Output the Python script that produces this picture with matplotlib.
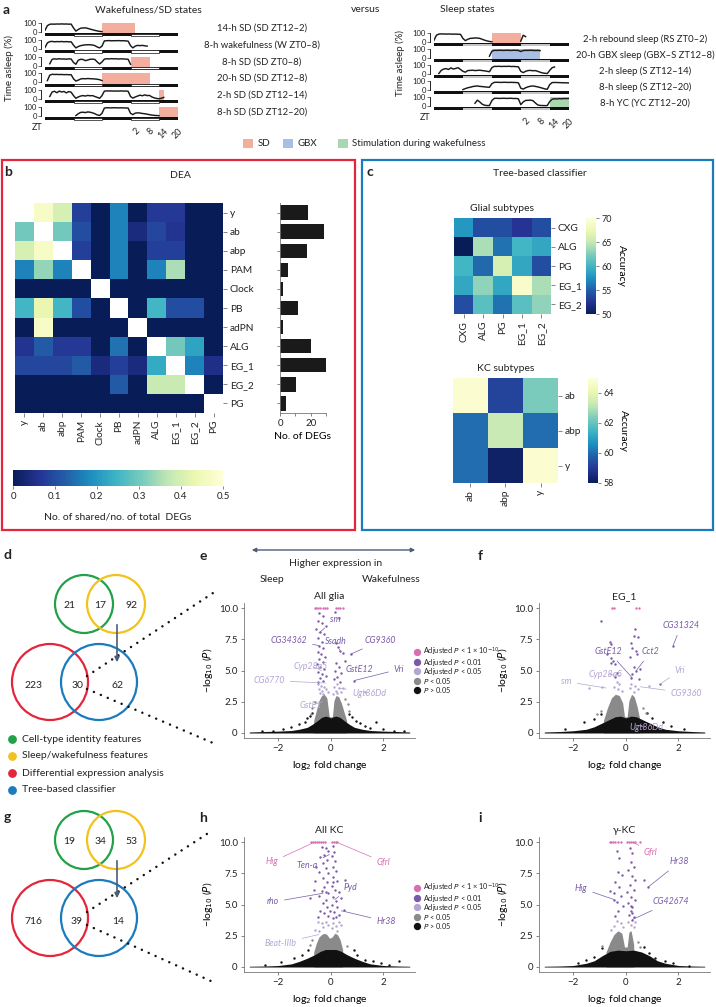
import numpy as np
import matplotlib
matplotlib.use("Agg")
from matplotlib import pyplot as plt
from matplotlib.patches import Rectangle, Circle

plt.rcParams['font.family'] = ['Lato', 'DejaVu Sans']
plt.rcParams['font.size'] = 7
plt.rcParams['mathtext.fontset'] = 'dejavusans'
plt.rcParams['axes.linewidth'] = 0.7
plt.rcParams['text.color'] = '#222222'
plt.rcParams['xtick.color'] = '#555555'
plt.rcParams['ytick.color'] = '#555555'
plt.rcParams['xtick.labelcolor'] = '#222222'
plt.rcParams['ytick.labelcolor'] = '#222222'

nan = np.nan

# ---------------- panel a: % time asleep, one value per hour from first ZT12 ----------------
hours = np.arange(57)
ld_starts = [0, 12, 24, 36, 48]
ld_dark = [True, False, True, False, True]
zt_hours = [38, 44, 50, 56]
zt_labels = ['2', '8', '14', '20']

wake_names = ['14-h SD (SD ZT12\u20132)', '8-h wakefulness (W ZT0\u20138)', '8-h SD (SD ZT0\u20138)',
              '20-h SD (SD ZT12\u20138)', '2-h SD (SD ZT12\u201314)', '8-h SD (SD ZT12\u201320)']
wake_traces = [
    [20, 70, 86, 88, 87, 89, 88, 90, 88, 89, 87, 88, 45, 10, 28, 42, 45, 46, 40, 32, 25, 18, 12, 7, 4]
    + [nan] * 32,
    [15, 65, 80, 82, 78, 80, 79, 81, 78, 80, 77, 78, 40, 10, 25, 35, 40, 44, 45, 45, 42, 35, 20, 10,
     30, 88, 90, 91, 89, 90, 90, 91, 89, 90, 88, 85, 35, 10, 30, 38, 35, 38, 33, 30] + [nan] * 13,
    [nan, nan, 20, 70, 75, 72, 76, 73, 74, 71, 75, 73, 35, 15, 60, 70, 68, 55, 62, 70, 72, 68, 40, 18,
     40, 72, 76, 74, 77, 75, 76, 73, 75, 74, 72, 70, 15] + [nan] * 20,
    [nan, 20, 80, 90, 88, 89, 87, 88, 86, 87, 85, 86, 40, 15, 25, 38, 42, 40, 43, 41, 40, 38, 35, 30, 20]
    + [nan] * 32,
    [nan, nan, 30, 80, 88, 72, 90, 80, 86, 70, 85, 78, 40, 10, 25, 35, 40, 35, 42, 38, 40, 30, 20, 10,
     40, 90, 92, 91, 92, 90, 91, 90, 92, 90, 91, 88, 30, 12, 25, 35, 45, 38, 48, 40, 42, 25, 15, 8,
     5, 10, 20] + [nan] * 6,
    [nan] * 13 + [5, 25, 40, 42, 38, 45, 42, 35, 25, 12, 6, 30, 88, 92, 91, 90, 92, 91, 90, 91, 90, 89,
                  88, 30, 15, 32, 35, 33, 28, 25, 20, 15, 10, 7, 5, 4] + [nan] * 8,
]
wake_shades = [(24, 38, 'SD'), None, (36, 44, 'SD'), (24, 44, 'SD'), (48, 50, 'SD'), (48, 56, 'SD')]

sleep_names = ['2-h rebound sleep (RS ZT0\u20132)', '20-h GBX sleep (GBX\u2013S ZT12\u20138)',
               '2-h sleep (S ZT12\u201314)', '8-h sleep (S ZT12\u201320)', '8-h YC (YC ZT12\u201320)']
sleep_traces = [
    [20, 75, 88, 90, 89, 88, 89, 88, 87, 88, 86, 85, 40, 15, 30, 40, 42, 45, 44, 40, 30, 20, 12, 6, 3]
    + [nan] * 11 + [10, 75, 60] + [nan] * 18,
    [nan] * 23 + [20, 75, 85, 84, 86, 85, 84, 86, 85, 84, 86, 85, 84, 72, 83, 85, 84, 86, 84, 83, 84, 82]
    + [nan] * 12,
    [nan, nan, 5, 40, 55, 60, 50, 68, 55, 62, 70, 50, 30, 20, 38, 40, 42, 38, 40, 42, 38, 35, 30, 25,
     70, 85, 84, 86, 83, 85, 84, 86, 83, 84, 82, 80, 30, 15, 30, 38, 40, 36, 38, 30, 20, 12, 8, 5,
     40, 70, 78] + [nan] * 6,
    [nan] * 12 + [5, 15, 25, 30, 38, 42, 45, 40, 38, 35, 32, 30, 70, 85, 86, 85, 84, 86, 85, 84, 85, 84,
                  83, 80, 20, 10, 25, 35, 42, 45, 40, 35, 28, 20, 12, 8, 60, 82, 84, 83, 82, 81, 80, 80, 78],
    [nan] * 17 + [30, 65, 45, 20, 8, 5, 5, 60, 85, 86, 84, 85, 86, 84, 85, 86, 83, 84, 80, 15, 45, 62,
                  63, 65, 60, 35, 12, 6, 5, 4, 5, 50, 75, 80, 78, 82, 80, 83, 82, 84],
]
sleep_shades = [(24, 36, 'SD'), (24, 44, 'GBX'), None, None, (48, 56, 'Stim')]
shade_colors = {'SD': '#f4ae9e', 'GBX': '#a9bee3', 'Stim': '#abd7b0'}
legend_a = ['SD', 'GBX', 'Stimulation during wakefulness']
legend_a_keys = ['SD', 'GBX', 'Stim']

# ---------------- panel b: DEA overlap ----------------
dea_labels = ['y', 'ab', 'abp', 'PAM', 'Clock', 'PB', 'adPN', 'ALG', 'EG_1', 'EG_2', 'PG']
dea_shared = [
    [nan, 0.47, 0.40, 0.08, 0.00, 0.17, 0.00, 0.07, 0.07, 0.00, 0.00],
    [0.30, nan, 0.30, 0.10, 0.00, 0.17, 0.04, 0.09, 0.06, 0.00, 0.00],
    [0.40, 0.47, nan, 0.08, 0.00, 0.17, 0.00, 0.08, 0.08, 0.00, 0.00],
    [0.17, 0.33, 0.17, nan, 0.00, 0.17, 0.00, 0.17, 0.35, 0.00, 0.00],
    [0.00, 0.00, 0.00, 0.00, nan, 0.00, 0.00, 0.00, 0.00, 0.00, 0.00],
    [0.25, 0.43, 0.25, 0.10, 0.00, nan, 0.00, 0.25, 0.10, 0.10, 0.00],
    [0.00, 0.47, 0.00, 0.00, 0.00, 0.00, nan, 0.00, 0.00, 0.00, 0.00],
    [0.06, 0.12, 0.07, 0.07, 0.00, 0.15, 0.00, nan, 0.30, 0.22, 0.00],
    [0.09, 0.09, 0.09, 0.12, 0.04, 0.08, 0.04, 0.23, nan, 0.17, 0.05],
    [0.00, 0.00, 0.00, 0.00, 0.00, 0.12, 0.00, 0.38, 0.38, nan, 0.00],
    [0.00, 0.00, 0.00, 0.00, 0.00, 0.00, 0.00, 0.00, 0.00, 0.00, nan],
]
dea_counts = [18, 29, 17.5, 5.5, 2, 11.5, 2, 20.5, 30, 10.5, 4]

# ---------------- panel c: classifier accuracy ----------------
glia_labels = ['CXG', 'ALG', 'PG', 'EG_1', 'EG_2']
glia_acc = [
    [58, 54, 54, 52.5, 54],
    [50, 64, 56, 60, 59],
    [60, 55.5, 66, 59, 54],
    [59, 63, 59, 69, 64],
    [54, 61, 56, 61, 63],
]
kc_labels = ['ab', 'abp', 'y']
kc_acc = [
    [64.8, 59.2, 62.3],
    [60.0, 63.3, 60.0],
    [60.0, 58.2, 64.8],
]

# ---------------- panels d, g: venn counts ----------------
venn_sets = ['Cell-type identity features', 'Sleep/wakefulness features',
             'Differential expression analysis', 'Tree-based classifier']
venn_colors = ['#23a149', '#f2c21d', '#e3263c', '#1b7bbd']
venn_d = [21, 17, 92, 223, 30, 62]
venn_g = [19, 34, 53, 716, 39, 14]

# ---------------- volcano plots (e, f, h, i) ----------------
vol_cats = ['Adjusted $P$ < 1 \u00d7 10$^{-10}$', 'Adjusted $P$ < 0.01', 'Adjusted $P$ < 0.05',
            '$P$ < 0.05', '$P$ > 0.05']
PINK, PURP, LPURP, GRAY, BLACK = '#d86fb1', '#7a5aa8', '#b5a4d3', '#8a8a8a', '#111111'

# All glia
glia_top = [(-0.62, 10), (-0.55, 10), (-0.48, 10), (-0.42, 10), (-0.3, 10), (-0.22, 10), (-0.15, 10),
            (0.2, 10), (0.27, 10), (0.35, 10), (0.45, 10)]
glia_adj01 = [(-0.45, 9.6), (-0.3, 9.4), (-0.5, 9.0), (-0.35, 8.8), (-0.2, 8.6), (-0.55, 8.3), (-0.4, 8.1),
              (-0.25, 7.9), (-0.5, 7.6), (-0.35, 7.3), (-0.45, 7.0), (-0.28, 6.8), (-0.5, 6.5), (-0.38, 6.3),
              (-0.22, 6.1), (-0.45, 5.9), (-0.3, 5.7), (-0.52, 5.5), (-0.4, 5.3), (-0.25, 5.1), (-0.48, 4.9),
              (-0.35, 4.7), (-0.2, 4.6), (-0.42, 4.4), (-0.3, 4.2), (-0.5, 4.1), (0.15, 9.7), (0.3, 9.2),
              (0.2, 7.2), (0.28, 6.9), (0.35, 6.6), (0.45, 6.4), (0.2, 5.6), (0.3, 5.3), (0.15, 5.0),
              (0.38, 4.8), (0.25, 4.5), (0.12, 4.3), (0.35, 4.1), (0.75, 6.3), (0.9, 4.2), (0.55, 5.8)]
glia_adj05 = [(-0.5, 3.9), (-0.38, 3.8), (-0.25, 3.7), (-0.45, 3.5), (-0.32, 3.4), (-0.18, 3.5), (-0.4, 3.2),
              (-0.28, 3.1), (-0.12, 3.3), (0.12, 3.7), (0.22, 3.9), (0.3, 3.6), (0.18, 3.4), (0.38, 3.3),
              (0.25, 3.2), (0.45, 3.6), (0.1, 3.1), (1.3, 3.3)]
glia_p05_x = [-0.65, -0.55, -0.45, -0.35, -0.25, -0.15, -0.06, 0.06, 0.12, 0.2, 0.3, 0.4, 0.5, 0.6]
glia_p05_top = [1.0, 1.8, 2.6, 3.0, 3.1, 2.8, 1.3, 1.3, 2.6, 3.0, 2.9, 2.4, 1.7, 1.0]
glia_p05 = [(-0.75, 1.5), (-0.7, 2.0), (0.7, 1.8), (0.65, 2.3), (-0.6, 2.5), (0.55, 2.7)]
glia_ns_x = [-3.1, -2.5, -2.0, -1.5, -1.2, -0.9, -0.7, -0.5, -0.35, -0.2, -0.1, 0.0, 0.1, 0.2, 0.35, 0.5,
             0.7, 0.9, 1.2, 1.5, 2.0, 2.5, 3.0]
glia_ns_top = [0.08, 0.12, 0.15, 0.2, 0.3, 0.45, 0.7, 1.0, 1.25, 1.35, 1.3, 1.2, 1.3, 1.35, 1.25, 1.0,
               0.7, 0.45, 0.3, 0.2, 0.15, 0.12, 0.08]
glia_ns = [(-2.6, 0.15), (-2.2, 0.2), (-1.8, 0.35), (-1.5, 0.5), (-1.2, 0.7), (-1.0, 0.9), (-0.9, 1.2),
           (-0.8, 1.4), (0.8, 1.3), (0.95, 1.0), (1.1, 0.8), (1.3, 0.6), (1.5, 0.4), (1.7, 0.9), (2.0, 0.3),
           (2.4, 0.2), (2.8, 0.15), (-0.7, 1.6), (0.7, 1.5)]
glia_genes = [('sm', (-0.45, 8.0), (0.15, 9.1), PURP), ('CG34362', (-0.45, 7.0), (-1.6, 7.4), PURP),
              ('Ssadh', (0.35, 6.6), (0.2, 7.3), PURP), ('CG9360', (0.75, 6.3), (1.9, 7.4), PURP),
              ('GstE12', (0.55, 5.8), (1.1, 5.1), PURP), ('Vri', (0.9, 4.2), (2.6, 5.1), PURP),
              ('Cyp28a5', (-0.35, 5.0), (-0.75, 5.35), LPURP), ('CG6770', (-0.2, 4.0), (-2.35, 4.2), LPURP),
              ('Ugt86Dd', (0.3, 3.6), (1.45, 3.2), LPURP), ('GstE1', (-0.3, 2.5), (-0.75, 2.2), LPURP)]

# EG_1
eg1_top = [(-0.52, 10), (-0.45, 10), (0.4, 10), (0.5, 10)]
eg1_adj01 = [(-0.95, 9.0), (-0.62, 7.3), (-0.55, 7.1), (-0.7, 6.3), (-0.58, 6.0), (-0.48, 5.8), (-0.55, 5.6),
             (-0.42, 5.5), (0.35, 8.3), (0.3, 7.8), (0.48, 7.7), (0.2, 7.2), (0.25, 6.8), (0.4, 6.6),
             (0.42, 6.3), (0.15, 6.1), (0.3, 5.3), (0.38, 5.0), (0.25, 4.7), (0.2, 4.4), (-0.35, 4.8),
             (-0.4, 4.5), (0.5, 4.3), (0.55, 5.1), (1.8, 7.0), (1.3, 3.9)]
eg1_adj05 = [(-0.35, 4.1), (-0.25, 3.9), (-0.45, 3.7), (-0.3, 3.5), (-0.15, 3.4), (0.2, 3.9), (0.35, 3.8),
             (0.15, 3.6), (0.45, 3.5), (0.3, 3.3), (-1.4, 3.6), (-0.9, 3.7), (0.9, 3.8)]
eg1_p05_x = [-0.85, -0.7, -0.55, -0.4, -0.25, -0.12, -0.05, 0.05, 0.12, 0.22, 0.32, 0.42, 0.52]
eg1_p05_top = [1.0, 2.0, 2.8, 3.1, 3.0, 2.4, 1.3, 1.3, 2.6, 3.1, 2.9, 2.2, 1.2]
eg1_p05 = [(-0.95, 1.8), (-1.1, 1.5), (0.65, 2.0), (0.75, 1.6)]
eg1_ns_x = [-3.1, -2.5, -2.0, -1.5, -1.2, -0.9, -0.6, -0.4, -0.2, 0.0, 0.2, 0.4, 0.6, 0.9, 1.2, 1.5, 2.0, 2.5, 3.0]
eg1_ns_top = [0.08, 0.12, 0.18, 0.3, 0.5, 0.8, 1.1, 1.3, 1.35, 1.2, 1.35, 1.3, 1.1, 0.8, 0.5, 0.3, 0.18, 0.12, 0.08]
eg1_ns = [(-1.6, 0.9), (-1.2, 1.1), (1.0, 1.2), (1.4, 0.9), (1.7, 0.6), (2.2, 0.3), (-2.3, 0.3), (0.8, 1.6),
          (-0.95, 1.5)]
eg1_genes = [('CG31324', (1.8, 7.0), (2.1, 8.6), PURP), ('GstE12', (0.25, 4.4), (-0.65, 6.5), PURP),
             ('Cct2', (0.4, 5.0), (0.95, 6.5), PURP), ('Cyp28a5', (-0.2, 4.6), (-0.75, 4.7), LPURP),
             ('Vri', (1.3, 3.9), (2.05, 5.0), LPURP), ('sm', (-0.75, 3.6), (-2.25, 4.1), LPURP),
             ('CG9360', (0.55, 3.7), (2.3, 3.2), LPURP), ('Ugt86Dd', (0.5, 0.6), (0.8, 0.4), LPURP)]

# All KC
kc_top = [(-0.75, 10), (-0.68, 10), (-0.6, 10), (-0.52, 10), (-0.45, 10), (-0.38, 10), (-0.3, 10),
          (-0.22, 10), (0.05, 10), (0.12, 10), (0.18, 10), (0.25, 10)]
kc_adj01 = [(-0.35, 9.6), (-0.2, 9.5), (-0.1, 9.3), (0.1, 9.7), (0.12, 9.2), (0.05, 8.9), (-0.25, 9.0),
            (-0.4, 8.8), (-0.15, 8.6), (-0.3, 8.3), (0.15, 8.5), (0.08, 8.0), (-0.2, 7.9), (-0.45, 7.6),
            (-0.1, 7.5), (0.2, 7.7), (0.1, 7.2), (-0.3, 7.1), (-0.6, 6.9), (-0.15, 6.8), (0.25, 6.9),
            (0.05, 6.5), (-0.25, 6.4), (-0.35, 6.1), (0.15, 6.2), (0.3, 6.0), (-0.1, 5.9), (-0.45, 5.7),
            (0.1, 5.6), (-0.2, 5.4), (0.2, 5.3), (-0.8, 5.5), (0.4, 5.5), (-0.3, 5.1), (0.05, 5.0),
            (-0.15, 4.8), (0.25, 4.8), (-0.4, 4.5), (0.12, 4.4), (-0.25, 4.3), (0.3, 4.2), (-0.1, 4.1),
            (0.18, 4.0), (-0.5, 4.0), (0.5, 4.6), (-0.65, 6.2), (0.55, 7.0), (-0.55, 8.0), (-0.2, 6.0),
            (0.1, 6.8), (-0.05, 4.5), (0.08, 3.9)]
kc_adj05 = [(-0.5, 3.6), (-0.35, 3.5), (-0.2, 3.6), (-0.1, 3.4), (0.1, 3.5), (0.2, 3.3), (0.3, 3.6),
            (-0.3, 3.2), (0.4, 3.4), (-0.6, 3.0), (0.05, 3.1), (-0.45, 2.9), (0.25, 2.9)]
kc_p05_x = [-0.65, -0.55, -0.45, -0.35, -0.25, -0.15, -0.05, 0.05, 0.15, 0.25, 0.35, 0.45]
kc_p05_top = [1.2, 1.9, 2.4, 2.6, 2.7, 2.6, 2.3, 2.4, 2.7, 2.6, 2.2, 1.4]
kc_p05 = [(-0.8, 1.8), (0.6, 1.7), (-0.7, 2.2)]
kc_ns_x = [-3.1, -2.5, -2.0, -1.5, -1.2, -0.9, -0.6, -0.4, -0.2, 0.0, 0.2, 0.4, 0.6, 0.9, 1.2, 1.5, 2.0, 2.5, 3.0]
kc_ns_top = [0.06, 0.08, 0.12, 0.25, 0.45, 0.7, 1.0, 1.25, 1.4, 1.4, 1.4, 1.25, 1.0, 0.7, 0.45, 0.25, 0.12, 0.08, 0.06]
kc_ns = [(-1.9, 0.4), (-1.4, 0.7), (-1.1, 1.0), (1.0, 1.0), (1.3, 0.6), (1.6, 0.5), (1.9, 0.3), (2.6, 0.5),
         (2.2, 0.2), (-2.5, 0.15), (0.9, 1.4), (-0.85, 1.4)]
kc_genes = [('Hig', (-0.6, 10), (-2.25, 8.4), PINK), ('Gfrl', (0.2, 10), (2.0, 8.4), PINK),
            ('Ten-a', (-0.05, 9.0), (-0.9, 8.1), PURP), ('Pyd', (0.15, 5.4), (0.75, 6.35), PURP),
            ('rho', (-0.3, 5.9), (-2.2, 5.2), PURP), ('Hr38', (0.4, 4.5), (2.1, 3.65), PURP),
            ('Beat-IIIb', (-0.45, 2.6), (-1.9, 1.9), LPURP)]

# gamma-KC
gkc_top = [(-0.6, 10), (-0.55, 10), (-0.48, 10), (-0.4, 10), (-0.3, 10), (-0.2, 10), (0.05, 10), (0.12, 10),
           (0.2, 10), (0.28, 10), (0.35, 10), (0.55, 10)]
gkc_adj01 = [(-0.35, 9.3), (-0.25, 8.7), (0.15, 9.5), (0.25, 9.1), (0.2, 8.4), (0.3, 8.0), (0.1, 7.8),
             (-0.3, 7.6), (-0.15, 7.4), (0.22, 7.3), (0.35, 7.0), (-0.4, 6.8), (0.15, 6.6), (-0.25, 6.4),
             (0.3, 6.2), (0.05, 6.0), (-0.45, 5.9), (-0.2, 5.7), (0.2, 5.6), (0.35, 5.4), (-0.35, 5.2),
             (0.1, 5.1), (-0.1, 4.9), (0.25, 4.8), (0.18, 4.5), (-0.3, 4.5), (0.12, 4.2), (0.3, 4.0),
             (-0.4, 4.1), (0.22, 3.8), (0.85, 6.4), (0.7, 7.0), (-0.6, 6.1), (-0.45, 5.4), (0.2, 4.9),
             (0.25, 4.3)]
gkc_adj05 = [(-0.35, 3.7), (-0.2, 3.5), (-0.45, 3.3), (0.1, 3.6), (0.2, 3.4), (0.3, 3.2), (-0.1, 3.2),
             (0.35, 3.6), (-0.55, 3.0)]
gkc_p05_x = [-0.75, -0.6, -0.45, -0.3, -0.15, -0.05, 0.05, 0.12, 0.2, 0.3]
gkc_p05_top = [1.2, 2.0, 2.6, 2.9, 2.7, 1.6, 1.6, 2.8, 2.9, 1.8]
gkc_p05 = [(-0.9, 1.7), (0.45, 2.0), (0.55, 1.6)]
gkc_ns_x = [-3.1, -2.5, -2.0, -1.5, -1.2, -0.9, -0.6, -0.3, 0.0, 0.3, 0.6, 0.9, 1.2, 1.5, 2.0, 2.5, 3.0]
gkc_ns_top = [0.06, 0.08, 0.12, 0.3, 0.5, 0.9, 1.25, 1.35, 1.3, 1.35, 1.2, 0.9, 0.5, 0.3, 0.12, 0.08, 0.06]
gkc_ns = [(-1.8, 0.3), (-1.5, 0.6), (-1.2, 0.8), (0.9, 1.1), (1.1, 0.7), (1.5, 0.5), (1.8, 0.3), (2.4, 0.1),
          (-0.9, 1.5), (0.7, 1.6)]
gkc_genes = [('Gfrl', (0.3, 9.95), (0.95, 9.2), PINK), ('Hr38', (0.85, 6.4), (2.05, 8.4), PURP),
             ('Hig', (-0.45, 5.4), (-1.7, 6.3), PURP), ('CG42674', (0.25, 3.8), (1.7, 5.2), PURP)]


# ---------------- figure ----------------
W, H = 716, 1007
fig = plt.figure(figsize=(W / 100, H / 100), dpi=100)


def box(x0, y0, x1, y1):
    # axes from pixel corners (top-left origin)
    return fig.add_axes([x0 / W, 1 - y1 / H, (x1 - x0) / W, (y1 - y0) / H])


ov = fig.add_axes([0, 0, 1, 1], zorder=5)
ov.set_xlim(0, W)
ov.set_ylim(H, 0)
ov.axis('off')


def label(x, y, s, **kw):
    kw.setdefault('ha', 'center')
    kw.setdefault('va', 'center')
    ov.text(x, y, s, **kw)


def actogram(x0, x1, tops, traces, shades, light_fc, light_ec):
    axs = []
    for top, trace, shade in zip(tops, traces, shades):
        ax = box(x0, top - 2, x1, top + 14)
        ax.set_xlim(0, 56)
        ax.set_ylim(-55.6, 122.2)
        ax.patch.set_alpha(0)
        ax.add_patch(Rectangle((0, -46), 56, 32, fc='#111111', ec='none', zorder=2))
        for s0, dark in zip(ld_starts, ld_dark):
            if not dark:
                ax.add_patch(Rectangle((s0, -43), 12, 26, fc=light_fc, ec=light_ec, lw=0.5, zorder=2))
        if shade is not None:
            ax.add_patch(Rectangle((shade[0], -14), shade[1] - shade[0], 114,
                                   fc=shade_colors[shade[2]], ec='none', zorder=1))
        ax.plot(hours, trace, color='#1a1a1a', lw=1.05, zorder=3)
        for s in ['top', 'right', 'bottom']:
            ax.spines[s].set_visible(False)
        ax.spines['left'].set_bounds(0, 100)
        ax.spines['left'].set_position(('outward', 3))
        ax.spines['left'].set_linewidth(0.6)
        ax.set_yticks([0, 100])
        ax.tick_params(axis='y', length=2, width=0.6, labelsize=5.5, pad=1)
        ax.set_xticks([])
        axs.append(ax)
    last = axs[-1]
    last.set_xticks(zt_hours)
    last.set_xticklabels(zt_labels, rotation=45, ha='right', rotation_mode='anchor')
    last.tick_params(axis='x', length=0, pad=4, labelsize=6.5)
    return axs


# panel a
left_tops = [23, 39.8, 56.6, 73.4, 90.2, 107]
right_tops = [33, 49, 65, 81, 97]
actogram(45, 178, left_tops, wake_traces, wake_shades, 'white', '#111111')
actogram(434, 569, right_tops, sleep_traces, sleep_shades, '#c4c4c4', 'none')
label(6, 10, 'a', fontsize=10, fontweight='bold')
label(148, 10, 'Wakefulness/SD states', fontsize=7.5)
label(366, 10, 'versus', fontsize=7.5)
label(467, 10, 'Sleep states', fontsize=7.5)
for top, name in zip(left_tops, wake_names):
    label(262, top + 5, name, fontsize=6.8)
for top, name in zip(right_tops, sleep_names):
    label(645, top + 6, name, fontsize=6.8)
label(9, 68, 'Time asleep (%)', rotation=90, fontsize=7)
label(400, 63, 'Time asleep (%)', rotation=90, fontsize=7)
label(37, 127, 'ZT', fontsize=6.5)
label(425, 117, 'ZT', fontsize=6.5)
for (lx, tx), name, key in zip([(243, 258), (283, 297), (338, 352)], legend_a, legend_a_keys):
    ov.add_patch(Rectangle((lx, 139), 10, 9, fc=shade_colors[key], ec='none'))
    ov.text(tx, 144, name, ha='left', va='center', fontsize=7)

# panel b / c frames
ov.add_patch(Rectangle((2, 160), 353, 370, fill=False, ec='#e3263c', lw=1.6))
ov.add_patch(Rectangle((362, 160), 351, 370, fill=False, ec='#1b7bbd', lw=1.6))


def heat(ax, data, labels, vmin, vmax, fs=7):
    m = np.ma.masked_invalid(np.array(data, dtype=float))
    mesh = ax.pcolormesh(m, cmap='YlGnBu_r', vmin=vmin, vmax=vmax)
    n = len(labels)
    ax.set_xlim(0, n)
    ax.set_ylim(n, 0)
    ax.set_xticks(np.arange(n) + 0.5)
    ax.set_xticklabels(labels, rotation=90)
    ax.set_yticks(np.arange(n) + 0.5)
    ax.set_yticklabels(labels)
    ax.yaxis.tick_right()
    for s in ax.spines.values():
        s.set_visible(False)
    ax.tick_params(length=3, width=0.5, labelsize=fs, pad=2)
    return mesh


label(8, 172, 'b', fontsize=10, fontweight='bold')
label(180, 175, 'DEA', fontsize=7.5)
ax_b = box(15, 203, 223, 413)
mesh_b = heat(ax_b, dea_shared, dea_labels, 0, 0.5, fs=7.3)
ax_bar = box(280, 203, 326, 413)
ax_bar.barh(np.arange(len(dea_counts)) + 0.5, dea_counts, height=0.75, color='#1a1a1a')
ax_bar.set_ylim(len(dea_counts), 0)
ax_bar.set_xlim(0, 30)
ax_bar.set_yticks(np.arange(len(dea_counts)) + 0.5)
ax_bar.set_yticklabels([])
ax_bar.set_xticks([0, 10, 20, 30])
ax_bar.set_xticklabels(['0', '', '20', ''])
ax_bar.spines['top'].set_visible(False)
ax_bar.spines['right'].set_visible(False)
for s in ['left', 'bottom']:
    ax_bar.spines[s].set_color('#777777')
    ax_bar.spines[s].set_linewidth(0.6)
ax_bar.tick_params(length=2.5, width=0.5, labelsize=7, pad=2)
ax_bar.set_xlabel('No. of DEGs', fontsize=7.5, labelpad=3)
cax_b = box(13, 470, 223, 486)
cb = fig.colorbar(mesh_b, cax=cax_b, orientation='horizontal')
cb.outline.set_visible(False)
cb.set_ticks([0, 0.1, 0.2, 0.3, 0.4, 0.5])
cb.set_ticklabels(['0', '0.1', '0.2', '0.3', '0.4', '0.5'])
cb.ax.tick_params(length=2, width=0.5, labelsize=7, pad=2)
label(118, 517, 'No. of shared/no. of total  DEGs', fontsize=7.5)

# panel c
label(370, 172, 'c', fontsize=10, fontweight='bold')
label(540, 173, 'Tree-based classifier', fontsize=7.5)
ax_g = box(454, 218, 551, 314)
mesh_g = heat(ax_g, glia_acc, glia_labels, 50, 70, fs=7.3)
ax_g.set_title('Glial subtypes', fontsize=7.5, pad=5)
cax_g = box(586, 218, 596, 314)
cbg = fig.colorbar(mesh_g, cax=cax_g)
cbg.outline.set_visible(False)
cbg.set_ticks([50, 55, 60, 65, 70])
cbg.ax.tick_params(length=2, width=0.5, labelsize=6.5, pad=2)
cbg.set_label('Accuracy', rotation=270, fontsize=7.5, labelpad=10)
ax_k = box(453, 378, 558, 483)
mesh_k = heat(ax_k, kc_acc, kc_labels, 58, 65, fs=7.3)
ax_k.set_title('KC subtypes', fontsize=7.5, pad=5)
cax_k = box(588, 378, 598, 483)
cbk = fig.colorbar(mesh_k, cax=cax_k)
cbk.outline.set_visible(False)
cbk.set_ticks([58, 60, 62, 64])
cbk.ax.tick_params(length=2, width=0.5, labelsize=6.5, pad=2)
cbk.set_label('Accuracy', rotation=270, fontsize=7.5, labelpad=10)


# venn diagrams
def venn(counts, cy_top, cy_bot, x_end_top, y_end_top, y_end_bot):
    centres = [(84, cy_top, 29), (116, cy_top, 29), (50, cy_bot, 38), (99, cy_bot, 38)]
    for (cx, cy, r), c in zip(centres, venn_colors):
        ov.add_patch(Circle((cx, cy), r, fill=False, ec=c, lw=1.6))
    for (tx, ty), n in zip([(69, cy_top + 1), (100, cy_top + 1), (131, cy_top + 1),
                            (33, cy_bot + 3), (77, cy_bot + 3), (118, cy_bot + 3)], counts):
        label(tx, ty, str(n), fontsize=7.5)
    ov.annotate('', xy=(117, cy_top + 61), xytext=(117, cy_top + 18),
                arrowprops=dict(arrowstyle='-|>', color='#4a5e78', lw=1.2, mutation_scale=7))
    for (ya, yb) in [(cy_bot - 6, y_end_top), (cy_bot + 7, y_end_bot)]:
        ov.plot([87, x_end_top], [ya, yb], color='#111111', lw=1.8, linestyle=(0, (0.01, 3.0)),
                dash_capstyle='round')


label(7, 555, 'd', fontsize=10, fontweight='bold')
venn(venn_d, 604, 682, 213, 593, 743)
for k, (name, c) in enumerate(zip(venn_sets, venn_colors)):
    ov.scatter([12], [739 + 17 * k], s=40, color=c, lw=0)
    ov.text(22, 739 + 17 * k, name, ha='left', va='center', fontsize=7.5)
label(7, 817, 'g', fontsize=10, fontweight='bold')
venn(venn_g, 840, 918, 213, 830, 982)


# volcano plots
def volcano(ax, ns_x, ns_top, ns_pts, p05_x, p05_top, p05_pts, adj05, adj01, top, genes, title, ylab):
    ax.fill_between(p05_x, 0, p05_top, color=GRAY, lw=0, zorder=1)
    ax.fill_between(ns_x, 0, ns_top, color=BLACK, lw=0, zorder=2)
    for pts, c, z in [(ns_pts, BLACK, 2), (p05_pts, GRAY, 2), (adj05, LPURP, 3), (adj01, PURP, 4),
                      (top, PINK, 5)]:
        xs, ys = zip(*pts)
        ax.scatter(xs, ys, s=3, color=c, lw=0, zorder=z)
    for name, pt, tp, c in genes:
        ax.annotate(name, xy=pt, xytext=tp, fontsize=6.3, style='italic', color=c, ha='center',
                    va='center', zorder=6,
                    arrowprops=dict(arrowstyle='-', color=c, lw=0.5, shrinkA=2, shrinkB=0))
    ax.set_xlim(-3.3, 3.2)
    ax.set_ylim(-0.4, 10.4)
    ax.set_xticks([-2, 0, 2])
    ax.set_yticks([0, 2.5, 5, 7.5, 10])
    ax.set_yticklabels(['0', '2.5', '5.0', '7.5', '10.0'])
    ax.spines['top'].set_visible(False)
    ax.spines['right'].set_visible(False)
    for s in ['left', 'bottom']:
        ax.spines[s].set_color('#777777')
        ax.spines[s].set_linewidth(0.6)
    ax.tick_params(length=2.5, width=0.5, labelsize=7, pad=2)
    ax.set_title(title, fontsize=7.5, pad=3)
    ax.set_xlabel('log$_2$ fold change', fontsize=7.5, labelpad=4)
    if ylab:
        ax.set_ylabel('\u2212log$_{10}$ ($P$)', fontsize=7.5, labelpad=3)


ax_e = box(244, 603, 415, 738)
volcano(ax_e, glia_ns_x, glia_ns_top, glia_ns, glia_p05_x, glia_p05_top, glia_p05, glia_adj05, glia_adj01,
        glia_top, glia_genes, 'All glia', True)
ax_f = box(539, 603, 710, 738)
volcano(ax_f, eg1_ns_x, eg1_ns_top, eg1_ns, eg1_p05_x, eg1_p05_top, eg1_p05, eg1_adj05, eg1_adj01,
        eg1_top, eg1_genes, 'EG_1', True)
ax_h = box(244, 837, 415, 972)
volcano(ax_h, kc_ns_x, kc_ns_top, kc_ns, kc_p05_x, kc_p05_top, kc_p05, kc_adj05, kc_adj01,
        kc_top, kc_genes, 'All KC', True)
ax_i = box(539, 837, 710, 972)
volcano(ax_i, gkc_ns_x, gkc_ns_top, gkc_ns, gkc_p05_x, gkc_p05_top, gkc_p05, gkc_adj05, gkc_adj01,
        gkc_top, gkc_genes, '\u03b3-KC', True)

label(203, 556, 'e', fontsize=10, fontweight='bold')
label(480, 556, 'f', fontsize=10, fontweight='bold')
label(203, 818, 'h', fontsize=10, fontweight='bold')
label(480, 818, 'i', fontsize=10, fontweight='bold')

ov.annotate('', xy=(418, 550), xytext=(249, 550),
            arrowprops=dict(arrowstyle='<|-|>', color='#4a5e78', lw=1.0, mutation_scale=6))
label(336, 563, 'Higher expression in', fontsize=7.5)
label(272, 579, 'Sleep', fontsize=7.5)
label(391, 579, 'Wakefulness', fontsize=7.5)

legend_offsets = [-1.5, 9.2, 18.4, 27.6, 36.8]
for y0 in [653, 889]:
    for off, name, c in zip(legend_offsets, vol_cats, [PINK, PURP, LPURP, GRAY, BLACK]):
        ov.scatter([417], [y0 + off], s=28, color=c, lw=0)
        ov.text(423, y0 + off, name, ha='left', va='center', fontsize=5.3)

fig.savefig('out.png', dpi=100)
